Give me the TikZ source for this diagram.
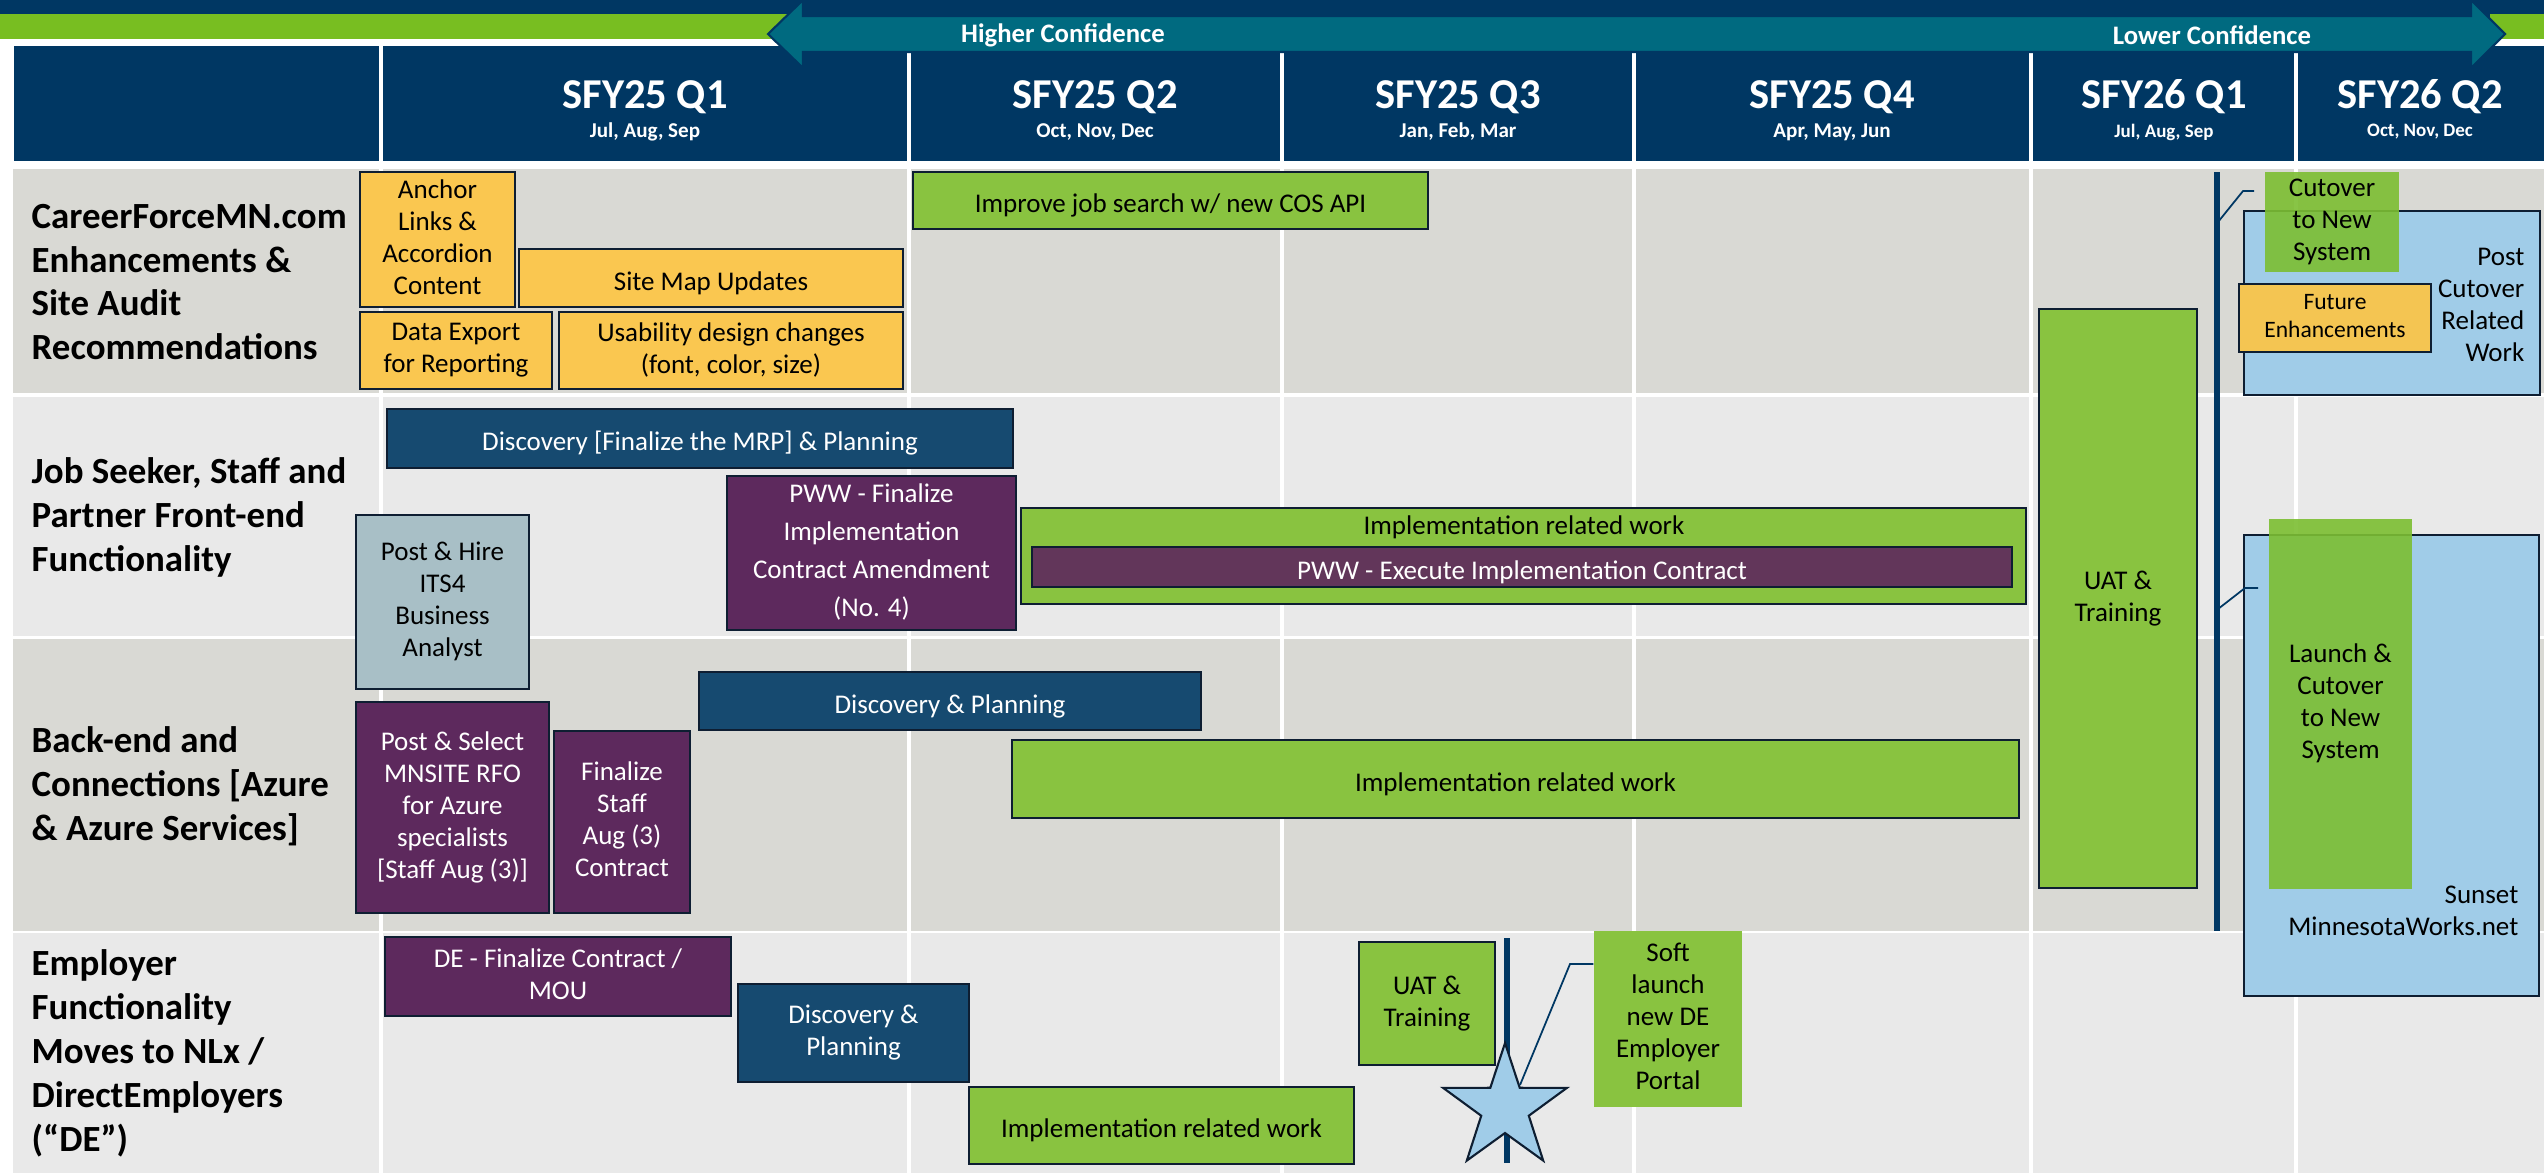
\documentclass[tikz,border=0pt]{standalone}
\usepackage{fontspec}
\setmainfont{Carlito}
\usetikzlibrary{shapes.geometric}
\definecolor{hdr}{RGB}{0,55,99}
\definecolor{topgrn}{RGB}{120,190,33}
\definecolor{teal}{RGB}{0,106,128}
\definecolor{rowdk}{RGB}{217,217,212}
\definecolor{rowlt}{RGB}{233,233,233}
\definecolor{yel}{RGB}{250,199,80}
\definecolor{yel2}{RGB}{244,197,82}
\definecolor{grn}{RGB}{137,195,64}
\definecolor{bgrn}{RGB}{124,190,50}
\definecolor{nav}{RGB}{22,74,112}
\definecolor{pur}{RGB}{93,41,93}
\definecolor{pur2}{RGB}{98,54,90}
\definecolor{gblu}{RGB}{168,191,198}
\definecolor{lblu}{RGB}{160,204,232}
\definecolor{edge}{RGB}{14,30,50}
\newcommand\myrowf{\bfseries\fontsize{10.5}{12.5}\selectfont}
\newcommand\myhdrf{\bfseries\fontsize{12.1}{14}\selectfont}
\newcommand\mysubf{\bfseries\fontsize{6}{7}\selectfont}
\newcommand\mysubfb{\bfseries\fontsize{5.4}{6.5}\selectfont}
\newcommand\myarrf{\bfseries\fontsize{7.6}{9}\selectfont}
\newcommand\mybxf{\fontsize{7.68}{9.1}\selectfont}
\newcommand\mybxfw{\fontsize{7.68}{10.8}\selectfont}
\newcommand\mysmf{\fontsize{6.7}{8}\selectfont}
\begin{document}
\begin{tikzpicture}[x=0.1mm,y=-0.1mm,
  place/.style n args={4}{at={({(#1+#3)/2},{(#2+#4)/2})}, minimum width={(#3-#1)*0.1mm}, minimum height={(#4-#2)*0.1mm}},
  pptlines/.style={execute at begin node={\rule{0pt}{1.12em}}, execute at end node={\rule[-0.2em]{0pt}{0pt}}},
  box/.style={draw=edge, line width=0.5pt, inner sep=0pt, align=center, font=\mybxf, text=black, pptlines},
  ybox/.style={box, fill=yel},
  gbox/.style={box, fill=grn},
  nbox/.style={box, fill=nav, text=white},
  pbox/.style={box, fill=pur, text=white},
  lbbox/.style={box, fill=lblu},
  cbox/.style={inner sep=0pt, align=center, font=\mybxf, fill=bgrn, fill opacity=0.9, text opacity=1, pptlines},
  txt/.style={inner sep=0pt, align=center, font=\mybxf},
  rowlbl/.style={inner sep=0pt, anchor=west, align=left, font=\myrowf},
  qtitle/.style={inner sep=0pt, text=white, font=\myhdrf},
  qsub/.style={inner sep=0pt, text=white, font=\mysubf},
  qsubb/.style={inner sep=0pt, text=white, font=\mysubfb},
  calloutln/.style={draw=hdr, line width=0.5pt},
  mline/.style={draw=hdr, line width=0.65mm},
  coldiv/.style={white, line width=0.45mm}]
\useasboundingbox (0,0) rectangle (2544,1173);
% top strips
\fill[white] (0,0) rectangle (2544,1173);
\fill[hdr] (0,0) rectangle (2544,14);
\fill[topgrn] (0,14) rectangle (2544,39);
\fill[hdr] (14,46) rectangle (2544,161);
\fill[hdr] (790,0) rectangle (2490,50);
% header dividers
\draw[coldiv] (381,46) -- (381,161);
\foreach \cx in {909,1282,1634,2031,2296} {\draw[coldiv] (\cx,53) -- (\cx,161);}
% confidence arrow
\draw[fill=teal, draw=hdr, line width=0.6pt] (768,34) -- (803,0) -- (803,16) -- (2471,16) -- (2471,0) -- (2505,34) -- (2471,68) -- (2471,52) -- (803,52) -- (803,68) -- cycle;
\node[inner sep=0pt, text=white, font=\myarrf] (hc) at (1063,35) {Higher Confidence};
\node[inner sep=0pt, text=white, font=\myarrf] (lc) at (2212,35) {Lower Confidence};
% header texts
\node[qtitle] (q1) at (645,97) {SFY25 Q1};
\node[qsub] (q1s) at (645,132) {Jul, Aug, Sep};
\node[qtitle] (q2) at (1095,97) {SFY25 Q2};
\node[qsub] (q2s) at (1095,132) {Oct, Nov, Dec};
\node[qtitle] (q3) at (1458,97) {SFY25 Q3};
\node[qsub] (q3s) at (1458,132) {Jan, Feb, Mar};
\node[qtitle] (q4) at (1832,97) {SFY25 Q4};
\node[qsub] (q4s) at (1832,132) {Apr, May, Jun};
\node[qtitle] (q5) at (2164,97) {SFY26 Q1};
\node[qsubb] (q5s) at (2164,132) {Jul, Aug, Sep};
\node[qtitle] (q6) at (2420,97) {SFY26 Q2};
\node[qsubb] (q6s) at (2420,132) {Oct, Nov, Dec};
% rows
\fill[rowdk] (13,169) rectangle (2544,393);
\fill[rowlt] (13,397) rectangle (2544,636);
\fill[rowdk] (13,639) rectangle (2544,931);
\fill[rowlt] (13,933) rectangle (2544,1173);
\foreach \cx in {381,909,1282,1634,2031,2296} {\draw[coldiv] (\cx,165) -- (\cx,1173);}
% row labels
\node[rowlbl] (r1) at (31,282) {CareerForceMN.com\\Enhancements \&\\Site Audit\\Recommendations};
\node[rowlbl] (r2) at (31,517) {Job Seeker, Staff and\\Partner Front-end\\Functionality};
\node[rowlbl] (r3) at (31,786) {Back-end and\\Connections [Azure\\\& Azure Services]};
\node[rowlbl] (r4) at (31,1053) {Employer\\Functionality\\Moves to NLx /\\DirectEmployers\\(“DE”)};
% row 1
\node[ybox, place={360}{172}{515}{307}] (anchor) {Anchor\\Links \&\\Accordion\\Content};
\node[ybox, place={519}{249}{903}{307}] (sitemap) {Site Map Updates};
\node[ybox, place={360}{312}{552}{389}] (dataexp) {Data Export\\for Reporting};
\node[ybox, place={559}{312}{903}{389}] (usab) {Usability design changes\\(font, color, size)};
\node[gbox, place={913}{172}{1428}{229}] (improve) {Improve job search w/ new COS API};
% row 2
\node[nbox, place={387}{409}{1013}{468}] (disc1) {Discovery [Finalize the MRP] \& Planning};
\node[pbox, font=\mybxfw, place={727}{476}{1016}{630}] (pwwfin) {PWW - Finalize\\Implementation\\Contract Amendment\\(No. 4)};
\node[box, fill=gblu, place={356}{515}{529}{689}] (its4) {Post \& Hire\\ITS4\\Business\\Analyst};
\node[gbox, place={1021}{508}{2026}{604}] (impl1) {};
\node[txt] (impl1t) at (1524,527) {Implementation related work};
\node[box, fill=pur2, text=white, place={1032}{547}{2012}{587}] (pwwexec) {PWW - Execute Implementation Contract};
% row 3
\node[nbox, place={699}{672}{1201}{730}] (disc2) {Discovery \& Planning};
\node[gbox, place={1012}{740}{2019}{818}] (impl2) {Implementation related work};
\node[pbox, place={356}{702}{549}{913}] (postsel) {Post \& Select\\MNSITE RFO\\for Azure\\specialists\\{[}Staff Aug (3)]};
\node[pbox, place={554}{731}{690}{913}] (finstaff) {Finalize\\Staff\\Aug (3)\\Contract};
% row 4
\node[pbox, place={385}{937}{731}{1016}] (defin) {DE - Finalize Contract /\\MOU};
\node[nbox, place={738}{984}{969}{1082}] (disc3) {Discovery \&\\Planning};
\node[gbox, place={969}{1087}{1354}{1164}] (impl3) {Implementation related work};
\node[gbox, place={1359}{942}{1495}{1065}] (uat1) {UAT \&\\Training};
\draw[mline] (1507,938) -- (1507,1163);
\node[star, star points=5, star point ratio=2.6, minimum size=13mm, inner sep=0pt, draw=edge, line width=0.6pt, fill=lblu] (star) at (1505,1108) {};
\node[cbox, fill=grn, fill opacity=1, place={1594}{931}{1742}{1107}] (soft) {Soft\\launch\\new DE\\Employer\\Portal};
\coordinate (starpt) at (1520,1085);
\coordinate (kA) at (1570,964);
\draw[calloutln] (starpt) -- (kA) -- (soft.west |- kA);
% right side
\node[gbox, place={2039}{309}{2197}{888}] (uat2) {UAT \&\\Training};
\draw[mline] (2217,172) -- (2217,931);
\node[lbbox, place={2244}{211}{2540}{395}] (postcut) {};
\node[txt, anchor=east, align=right] (postcutt) at (2525,305) {Post\\Cutover\\Related\\Work};
\node[cbox, place={2265}{172}{2399}{272}] (cut1) {Cutover\\to New\\System};
\node[box, fill=yel2, font=\mysmf, place={2239}{284}{2431}{352}] (future) {Future\\Enhancements};
\node[lbbox, place={2244}{535}{2539}{996}] (sunset) {};
\node[txt, anchor=east, align=right] (sunsett) at (2519,911) {Sunset\\MinnesotaWorks.net};
\node[cbox, place={2269}{519}{2412}{889}] (launch) {Launch \&\\Cutover\\to New\\System};
\coordinate (v1) at (2218,222);
\coordinate (k1) at (2243,191);
\coordinate (e1) at (2254,191);
\draw[calloutln] (v1) -- (k1) -- (e1);
\coordinate (v2) at (2218,609);
\coordinate (k2) at (2245,588);
\coordinate (e2) at (2258,588);
\draw[calloutln] (v2) -- (k2) -- (e2);
\end{tikzpicture}
\end{document}
